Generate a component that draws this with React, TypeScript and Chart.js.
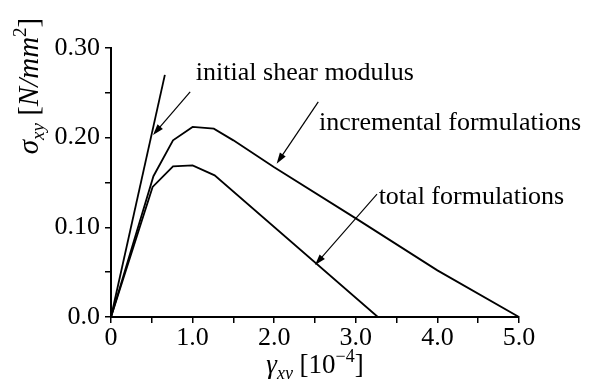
import React, { useEffect, useRef } from "react";
import { Chart, registerables } from "chart.js";

Chart.register(...registerables);

// ---- data (strain γxy [1e-4], stress σxy [N/mm²]) ----
const shearX = [0, 0.66];
const shearY = [0, 0.27];

const incrementalX = [0, 0.52, 0.76, 1.0, 1.26, 1.5, 2.0, 3.0, 4.0, 5.0];
const incrementalY = [0, 0.157, 0.197, 0.212, 0.21, 0.197, 0.167, 0.11, 0.052, 0];

const totalX = [0, 0.51, 0.76, 1.0, 1.27, 3.27, 3.45];
const totalY = [0, 0.145, 0.168, 0.169, 0.158, 0.0, 0.0];

const xTickLabels = ["0", "1.0", "2.0", "3.0", "4.0", "5.0"];
const yTickLabels = ["0.0", "0.10", "0.20", "0.30"];

const noteTexts = ["initial shear modulus", "incremental formulations", "total formulations"];
const noteTextX = [1.04, 2.55, 3.28];
const noteTextY = [0.272, 0.216, 0.134];
const arrowTailX = [0.97, 2.54, 3.26];
const arrowTailY = [0.251, 0.24, 0.137];
const arrowHeadX = [0.515, 2.03, 2.5];
const arrowHeadY = [0.203, 0.171, 0.058];

const SERIF = "'Liberation Serif', 'Times New Roman', serif";

type Seg = { t: string; italic?: boolean; size: number; dy?: number };

function drawRich(ctx: CanvasRenderingContext2D, segs: Seg[], cx: number, baseline: number) {
  let total = 0;
  const widths = segs.map((s) => {
    ctx.font = `${s.italic ? "italic " : ""}${s.size}px ${SERIF}`;
    const w = ctx.measureText(s.t).width;
    total += w;
    return w;
  });
  let x = cx - total / 2;
  segs.forEach((s, i) => {
    ctx.font = `${s.italic ? "italic " : ""}${s.size}px ${SERIF}`;
    ctx.fillText(s.t, x, baseline + (s.dy || 0));
    x += widths[i];
  });
}

const decorPlugin = {
  id: "decor",
  afterDraw(chart: any) {
    const ctx: CanvasRenderingContext2D = chart.ctx;
    const xs = chart.scales.x;
    const ys = chart.scales.y;
    const area = chart.chartArea;
    ctx.save();
    ctx.fillStyle = "#000";
    ctx.strokeStyle = "#000";
    ctx.textAlign = "left";
    ctx.textBaseline = "alphabetic";

    // x-axis title
    drawRich(
      ctx,
      [
        { t: "γ", italic: true, size: 27 },
        { t: "xy", italic: true, size: 18, dy: 6 },
        { t: " [10", size: 27 },
        { t: "−4", size: 18, dy: -11 },
        { t: "]", size: 27 },
      ],
      (area.left + area.right) / 2,
      area.bottom + 56
    );

    // y-axis title (rotated)
    ctx.save();
    ctx.translate(38, 86);
    ctx.rotate(-Math.PI / 2);
    drawRich(
      ctx,
      [
        { t: "σ", italic: true, size: 29 },
        { t: "xy", italic: true, size: 19, dy: 6 },
        { t: " [", size: 29 },
        { t: "N/mm", italic: true, size: 29 },
        { t: "2", size: 19, dy: -12 },
        { t: "]", size: 29 },
      ],
      0,
      0
    );
    ctx.restore();

    // annotations with arrows
    ctx.font = `26px ${SERIF}`;
    ctx.textBaseline = "middle";
    noteTexts.forEach((t, i) => {
      ctx.fillText(t, xs.getPixelForValue(noteTextX[i]), ys.getPixelForValue(noteTextY[i]));
      const x1 = xs.getPixelForValue(arrowTailX[i]);
      const y1 = ys.getPixelForValue(arrowTailY[i]);
      const x2 = xs.getPixelForValue(arrowHeadX[i]);
      const y2 = ys.getPixelForValue(arrowHeadY[i]);
      const ang = Math.atan2(y2 - y1, x2 - x1);
      const len = 11;
      const hw = 3.5;
      ctx.lineWidth = 1.2;
      ctx.beginPath();
      ctx.moveTo(x1, y1);
      ctx.lineTo(x2 - Math.cos(ang) * len * 0.8, y2 - Math.sin(ang) * len * 0.8);
      ctx.stroke();
      const bx = x2 - Math.cos(ang) * len;
      const by = y2 - Math.sin(ang) * len;
      ctx.beginPath();
      ctx.moveTo(x2, y2);
      ctx.lineTo(bx + Math.sin(ang) * hw, by - Math.cos(ang) * hw);
      ctx.lineTo(bx - Math.sin(ang) * hw, by + Math.cos(ang) * hw);
      ctx.closePath();
      ctx.fill();
    });
    ctx.restore();
  },
};

const toPts = (xs: number[], ys: number[]) => xs.map((x, i) => ({ x, y: ys[i] }));

export default function App() {
  const ref = useRef<HTMLCanvasElement | null>(null);
  useEffect(() => {
    if (!ref.current) return;
    const lineStyle = {
      showLine: true,
      borderColor: "#000",
      backgroundColor: "#000",
      borderWidth: 1.8,
      pointRadius: 0,
      fill: false,
      tension: 0,
    };
    const chart = new Chart(ref.current, {
      type: "scatter",
      data: {
        datasets: [
          { label: "initial shear modulus", data: toPts(shearX, shearY), ...lineStyle },
          { label: "incremental formulations", data: toPts(incrementalX, incrementalY), ...lineStyle },
          { label: "total formulations", data: toPts(totalX, totalY), ...lineStyle },
        ],
      },
      options: {
        animation: false,
        responsive: false,
        devicePixelRatio: 1,
        layout: { padding: { left: 0, top: 48, right: 70, bottom: 0 } },
        plugins: { legend: { display: false }, tooltip: { enabled: false } },
        scales: {
          x: {
            type: "linear",
            min: 0,
            max: 5,
            ticks: {
              stepSize: 0.5,
              autoSkip: false,
              maxRotation: 0,
              padding: 0,
              color: "#000",
              font: { family: SERIF, size: 26 },
              callback: (v: any) => {
                const n = Number(v);
                return Math.abs(n - Math.round(n)) < 1e-6 ? xTickLabels[Math.round(n)] : "";
              },
            },
            grid: { display: true, drawOnChartArea: false, drawTicks: true, tickLength: 6, color: "#000", lineWidth: 1.5 },
            border: { display: true, color: "#000", width: 2 },
            afterFit: (s: any) => {
              s.height = 62;
            },
          },
          y: {
            type: "linear",
            min: 0,
            max: 0.3,
            ticks: {
              stepSize: 0.05,
              autoSkip: false,
              padding: 5,
              color: "#000",
              font: { family: SERIF, size: 26 },
              callback: (v: any) => {
                const k = Math.round(Number(v) * 100);
                return k % 10 === 0 ? yTickLabels[k / 10] : "";
              },
            },
            grid: { display: true, drawOnChartArea: false, drawTicks: true, tickLength: 6, color: "#000", lineWidth: 1.5 },
            border: { display: true, color: "#000", width: 2 },
            afterFit: (s: any) => {
              s.width = 111;
            },
          },
        },
      } as any,
      plugins: [decorPlugin],
    });
    return () => chart.destroy();
  }, []);
  return (
    <div style={{ position: "absolute", left: 0, top: 0, width: 589, height: 379, background: "#fff" }}>
      <canvas ref={ref} width={589} height={379} style={{ display: "block" }} />
    </div>
  );
}
